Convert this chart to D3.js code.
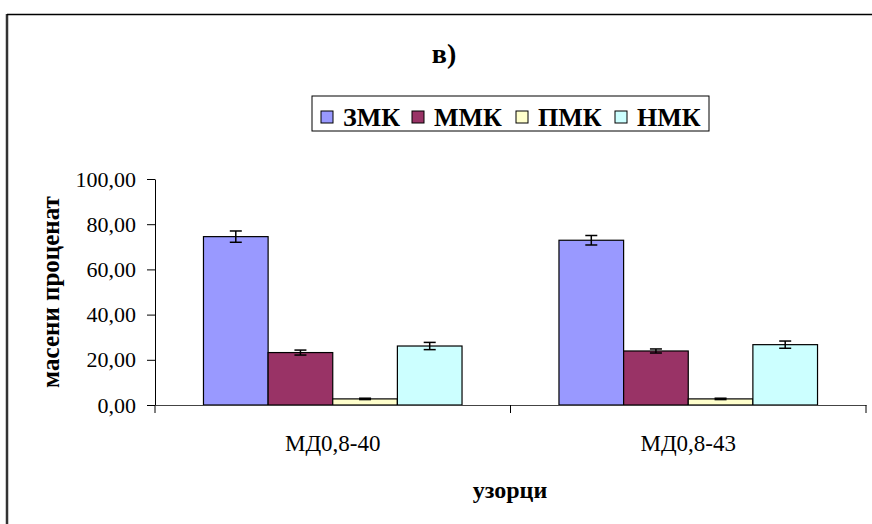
<!DOCTYPE html>
<html>
<head>
<meta charset="utf-8">
<script src="https://cdn.jsdelivr.net/npm/d3@7"></script>
<style>
  html, body { margin: 0; padding: 0; background: #fff; }
  svg { display: block; }
</style>
</head>
<body>
<svg id="chart" width="872" height="524"></svg>
<script>
// Samples along the x axis
const categories = ["МД0,8-40", "МД0,8-43"];
// Fractions (series) with their fill colours
const seriesNames = ["ЗМК", "ММК", "ПМК", "НМК"];
const seriesColors = ["#9999FF", "#993366", "#FFFFCC", "#CCFFFF"];
// Mass percentages per sample, one array per fraction
const zmk = [74.5, 72.9];
const mmk = [23.2, 23.9];
const pmk = [2.7, 2.7];
const nmk = [26.1, 26.7];
// Error-bar half widths
const zmkErr = [2.5, 2.1];
const mmkErr = [1.1, 0.9];
const pmkErr = [0.3, 0.3];
const nmkErr = [1.6, 1.6];
// Y axis ticks
const yTicks = [0, 20, 40, 60, 80, 100];

const values = [zmk, mmk, pmk, nmk];
const errors = [zmkErr, mmkErr, pmkErr, nmkErr];

const FONT = "'Liberation Serif', Tinos, 'Noto Serif', 'DejaVu Serif', serif";

const svg = d3.select("#chart");

// outer chart frame (extends past the visible area on the right and bottom)
svg.append("line").attr("x1", 7).attr("x2", 7).attr("y1", 14).attr("y2", 524)
  .attr("stroke", "#333").attr("stroke-width", 2.5);
svg.append("line").attr("x1", 7).attr("x2", 872).attr("y1", 14.5).attr("y2", 14.5)
  .attr("stroke", "#000").attr("stroke-width", 1.5);

const plot = { left: 155, right: 866, top: 179, bottom: 405 };

const x0 = d3.scaleBand().domain(categories).range([plot.left, plot.right]).padding(0);
const bw = x0.bandwidth();
const gap = bw * 0.75 / 5.5;
const x1 = d3.scaleBand().domain(seriesNames).range([gap, bw - gap]).padding(0);
const y = d3.scaleLinear().domain([0, 100]).range([plot.bottom, plot.top]);

// bars
const rows = [];
categories.forEach((c, ci) => {
  seriesNames.forEach((s, si) => {
    rows.push({ cat: c, ser: s, si, v: values[si][ci], e: errors[si][ci] });
  });
});

const g = svg.append("g");
g.selectAll("rect.bar").data(rows).join("rect")
  .attr("class", "bar")
  .attr("x", d => x0(d.cat) + x1(d.ser))
  .attr("y", d => y(d.v))
  .attr("width", x1.bandwidth())
  .attr("height", d => y(0) - y(d.v))
  .attr("fill", d => seriesColors[d.si])
  .attr("stroke", "#000")
  .attr("stroke-width", 1.2);

// error bars
const eb = g.selectAll("g.err").data(rows).join("g").attr("class", "err")
  .attr("transform", d => `translate(${x0(d.cat) + x1(d.ser) + x1.bandwidth() / 2},0)`);
eb.append("line").attr("x1", 0).attr("x2", 0)
  .attr("y1", d => y(d.v + d.e)).attr("y2", d => y(d.v - d.e))
  .attr("stroke", "#000").attr("stroke-width", 1.5);
eb.append("line").attr("x1", -6).attr("x2", 6)
  .attr("y1", d => y(d.v + d.e)).attr("y2", d => y(d.v + d.e))
  .attr("stroke", "#000").attr("stroke-width", 1.5);
eb.append("line").attr("x1", -6).attr("x2", 6)
  .attr("y1", d => y(d.v - d.e)).attr("y2", d => y(d.v - d.e))
  .attr("stroke", "#000").attr("stroke-width", 1.5);

// y axis
const fmt = v => d3.format(".2f")(v).replace(".", ",");
const yAxis = svg.append("g").attr("transform", `translate(${plot.left},0)`)
  .call(d3.axisLeft(y).tickValues(yTicks).tickFormat(fmt).tickSize(8).tickPadding(11).tickSizeOuter(0))
  .attr("font-family", FONT).attr("font-size", 22);
yAxis.select(".domain").attr("stroke", "#000");
yAxis.selectAll(".tick line").attr("stroke", "#000");

// x axis
const xAxis = svg.append("g").attr("transform", `translate(0,${plot.bottom})`)
  .call(d3.axisBottom(x0).tickSize(0).tickPadding(30).tickSizeOuter(0))
  .attr("font-family", FONT).attr("font-size", 23);
xAxis.select(".domain").attr("stroke", "#444").attr("stroke-width", 1.2);
// category boundary ticks
const bounds = [plot.left, ...categories.map(c => x0(c) + bw)];
xAxis.selectAll("line.bound").data(bounds).join("line").attr("class", "bound")
  .attr("x1", d => d).attr("x2", d => d).attr("y1", 0).attr("y2", 8)
  .attr("stroke", "#000");

// title
svg.append("text").attr("x", 444).attr("y", 63).attr("text-anchor", "middle")
  .attr("font-family", FONT).attr("font-size", 28).attr("font-weight", "bold").text("в)");

// axis titles
svg.append("text").attr("x", 510).attr("y", 498).attr("text-anchor", "middle")
  .attr("font-family", FONT).attr("font-size", 24).attr("font-weight", "bold").text("узорци");
svg.append("text").attr("transform", "translate(59,292) rotate(-90)").attr("text-anchor", "middle")
  .attr("font-family", FONT).attr("font-size", 25).attr("font-weight", "bold").text("масени проценат");

// legend
const legend = svg.append("g");
legend.append("rect").attr("x", 312).attr("y", 96).attr("width", 397).attr("height", 35)
  .attr("fill", "#fff").attr("stroke", "#000").attr("stroke-width", 1);
const legX = [321, 412, 516, 615];
const item = legend.selectAll("g.item").data(seriesNames).join("g").attr("class", "item")
  .attr("transform", (d, i) => `translate(${legX[i]},0)`);
item.append("rect").attr("x", 0).attr("y", 111).attr("width", 12).attr("height", 12)
  .attr("fill", (d, i) => seriesColors[i]).attr("stroke", "#000").attr("stroke-width", 1);
item.append("text").attr("x", 22).attr("y", 126)
  .attr("font-family", FONT).attr("font-size", 26).attr("font-weight", "bold").text(d => d);
</script>
</body>
</html>
